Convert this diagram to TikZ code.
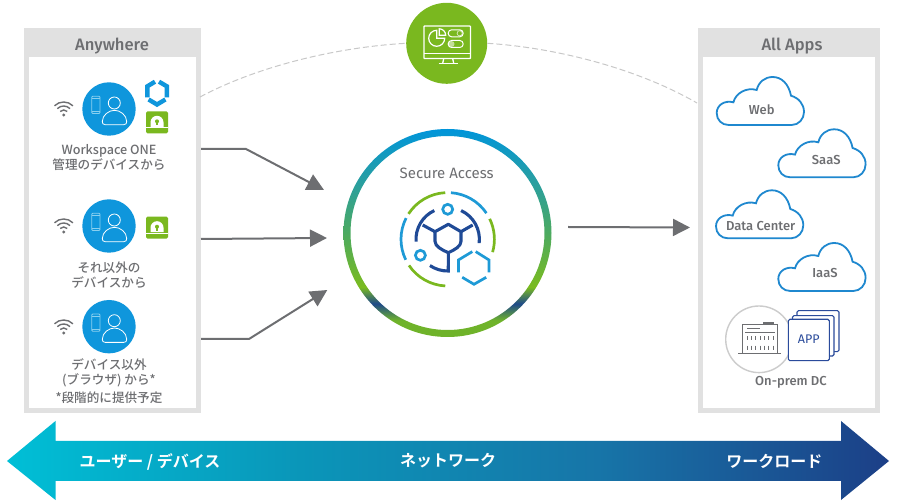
\documentclass[tikz,border=0pt]{standalone}
\usepackage{fontspec}
\setmainfont{Fira Sans}[BoldFont={Fira Sans Medium}]
\newfontfamily\jpfont{Noto Sans CJK JP Medium}[BoldFont={Noto Sans CJK JP Bold}]
\usetikzlibrary{arrows.meta}
\definecolor{txtgray}{HTML}{6D6E71}
\definecolor{panelgray}{HTML}{E1E1E1}
\definecolor{dashgray}{HTML}{C8C8C8}
\definecolor{userblue}{HTML}{0F96DC}
\definecolor{cloudblue}{HTML}{1F88CF}
\definecolor{iconblue}{HTML}{1E9AD6}
\definecolor{iconnavy}{HTML}{1F4A96}
\definecolor{appnavy}{HTML}{2A4B9B}
\definecolor{leafgreen}{HTML}{7AB81F}
\definecolor{phoneblue}{HTML}{8AD0EF}
\definecolor{bana}{HTML}{00BFD6}
\definecolor{banb}{HTML}{0A96B9}
\definecolor{banc}{HTML}{1775A8}
\definecolor{band}{HTML}{1C3F87}
\definecolor{ringa}{HTML}{0095DA}
\definecolor{ringb}{HTML}{2A9F9F}
\definecolor{ringc}{HTML}{4CAA60}
\definecolor{ringd}{HTML}{7ABB1F}
\definecolor{ringe}{HTML}{1F4A8A}
\definecolor{ringf}{HTML}{6FB32A}
\pgfdeclarehorizontalshading{bannershade}{100bp}{color(0bp)=(bana); color(25bp)=(bana); color(41.6bp)=(banb); color(58.5bp)=(banc); color(75bp)=(band); color(100bp)=(band)}
\pgfdeclareverticalshading{ringshade}{100bp}{color(0bp)=(ringf); color(25bp)=(ringf); color(29bp)=(ringf); color(33bp)=(ringe); color(37bp)=(ringd); color(50bp)=(ringc); color(62bp)=(ringb); color(75bp)=(ringa); color(100bp)=(ringa)}
\tikzset{
  >={Triangle[length=17pt,width=17pt]},
  flowarrow/.style={->,draw=txtgray,line width=2pt},
  dashline/.style={draw=dashgray,line width=1pt,dash pattern=on 6pt off 3pt},
  txtlabel/.style={text=txtgray,align=center,inner sep=0pt,font=\jpfont\fontsize{12.6}{15}\selectfont},
  latlabel/.style={text=txtgray,align=center,inner sep=0pt,font=\bfseries\fontsize{13}{15}\selectfont},
  headlabel/.style={text=txtgray,inner sep=0pt,font=\bfseries\fontsize{16.6}{18}\selectfont},
  banlabel/.style={text=white,inner sep=0pt,font=\jpfont\bfseries\fontsize{16}{18}\selectfont},
  usercircle/.style={circle,fill=userblue,minimum size=53.4pt,inner sep=0pt},
  usericon/.pic={
    \draw[white,line width=.8pt] (5.3,-6) circle (6);
    \draw[white,line width=.8pt] (-3.7,15.7) -- (14.7,15.7)
      .. controls (17,15.7) and (17.7,14.5) .. (17.7,12.5)
      .. controls (17.7,6) and (11,1.3) .. (5.5,1.3)
      .. controls (0,1.3) and (-6.7,6) .. (-6.7,12.5)
      .. controls (-6.7,14.5) and (-6,15.7) .. (-3.7,15.7) -- cycle;
    \draw[phoneblue,line width=.8pt,rounded corners=1pt] (-17.3,-12.7) rectangle (-9,4.5);
    \draw[phoneblue,line width=.6pt] (-17.3,-10.5) -- (-9,-10.5) (-17.3,2.5) -- (-9,2.5);
  },
  wifiicon/.pic={
    \fill[txtgray] (0,0) circle (1.6);
    \draw[txtgray,line width=1.4pt] (225:5) arc[start angle=225,end angle=315,radius=5];
    \draw[txtgray,line width=1.4pt] (225:9) arc[start angle=225,end angle=315,radius=9];
    \draw[txtgray,line width=1.4pt] (225:13) arc[start angle=225,end angle=315,radius=13];
  },
  lockicon/.pic={
    \fill[leafgreen,rounded corners=1.5pt] (-11,-11) rectangle (11,11);
    \fill[white] (-6.5,4.5) -- (-6.5,0) arc[start angle=180,end angle=360,radius=6.5] -- (6.5,4.5) -- cycle;
    \fill[leafgreen] (0,-1) circle (2);
    \fill[leafgreen] (-.8,-1) rectangle (.8,3);
    \draw[white,line width=.9pt] (-11,5.6) -- (11,5.6);
  },
  wsoneicon/.pic={
    \draw[userblue,line width=4.4pt] (-2,-11) -- (-9.6,-6.4) -- (-9.6,4.7);
    \draw[userblue,line width=4.4pt] (2,-11) -- (9.8,-6.4) -- (9.8,4.7);
    \draw[userblue,line width=4.4pt] (-8.4,6.8) -- (0,11.8) -- (8.4,6.8);
  },
  cloudicon/.pic={
    \draw[cloudblue,line width=1.8pt,fill=white] (12,0) -- (75,0)
      .. controls (82,0) and (87.3,-6) .. (87.3,-13)
      .. controls (87.3,-21) and (82,-27) .. (74.3,-29.3)
      .. controls (72,-41) and (65,-48) .. (56,-48)
      .. controls (48,-48) and (42,-43) .. (40,-35)
      .. controls (30,-38) and (19,-32) .. (16.7,-22.7)
      .. controls (8,-25) and (0,-20) .. (0,-12)
      .. controls (0,-5) and (5,0) .. (12,0) -- cycle;
  },
}
\begin{document}
\begin{tikzpicture}[x=1pt,y=-1pt]
  \useasboundingbox (0,0) rectangle (900,502);

  %% panels
  \fill[panelgray] (24,28) rectangle (201,413);
  \fill[white] (29,57) rectangle (196,408.5);
  \fill[panelgray] (698,28) rectangle (880,413);
  \fill[white] (703,57) rectangle (875,408);
  \node[headlabel] (anywhere) at (112,46) {Anywhere};
  \node[headlabel] (allapps) at (792,46) {All Apps};

  %% dashed arc
  \node[circle,fill=leafgreen,minimum size=81pt,inner sep=0pt] (monitor) at (446.7,43.3) {};
  \coordinate (dashL) at (200,97);
  \coordinate (dashR) at (697,103);
  \draw[dashline] (dashL) .. controls (260,65) and (340,47) .. (monitor.180);
  \draw[dashline] (monitor.0) .. controls (560,48) and (640,70) .. (dashR);

  %% monitor
  \begin{scope}[shift={(monitor)}]
    \draw[white,line width=1.3pt,rounded corners=.6pt] (-22.7,-17.3) rectangle (23.7,15.3);
    \draw[white,line width=1.3pt] (-22.7,10) -- (23.7,10);
    \draw[white,line width=1.3pt] (-3,15.3) -- (-4,20) (6,15.3) -- (7,20);
    \draw[white,line width=1.3pt] (-8,20.3) -- (11,20.3);
    \draw[white,line width=1.2pt] (-10,-13) arc[start angle=-90,end angle=-360,radius=8] -- (-10,-5) -- cycle;
    \draw[white,line width=1.2pt] (-7.5,-14.5) arc[start angle=-90,end angle=0,radius=6.5] -- (-7.5,-8) -- cycle;
    \draw[white,line width=1pt,rounded corners=3.4pt] (1.5,-13.5) rectangle (16.5,-6.5);
    \draw[white,line width=1pt,rounded corners=3.4pt] (1.5,-2.8) rectangle (16.5,4.2);
    \fill[white,opacity=.55] (4.8,.7) circle (3);
    \draw[white,line width=.7pt,opacity=.7] (13,-10) circle (2.6);
  \end{scope}

  %% left column
  \node[usercircle] (user1) at (109,109) {};
  \node[usercircle] (user2) at (109,226) {};
  \node[usercircle] (user3) at (109,326.7) {};
  \pic at (user1) {usericon};
  \pic at (user2) {usericon};
  \pic at (user3) {usericon};
  \pic at (63.7,115) {wifiicon};
  \pic at (63.7,232) {wifiicon};
  \pic at (63.7,333) {wifiicon};
  \pic at (157,92.7) {wsoneicon};
  \pic at (157,122.3) {lockicon};
  \pic at (157,227.7) {lockicon};
  \node[txtlabel] (label1) at (109,157.2) {Workspace ONE\\管理のデバイスから};
  \node[txtlabel] (label2) at (109,275.5) {それ以外の\\デバイスから};
  \node[txtlabel] (label3) at (109,381.2) {デバイス以外\\(ブラウザ) から*\\[3pt]*段階的に提供予定};

  %% arrows
  \coordinate (from1) at (201,149);
  \coordinate (bend1) at (246,149);
  \coordinate (to1) at (324,190);
  \coordinate (from2) at (201,239);
  \coordinate (to2) at (327,238);
  \coordinate (from3) at (201,339);
  \coordinate (bend3) at (249,339);
  \coordinate (to3) at (327.3,290);
  \coordinate (from4) at (568,227);
  \coordinate (to4) at (690,227.5);
  \draw[flowarrow] (from1) -- (bend1) -- (to1);
  \draw[flowarrow] (from2) -- (to2);
  \draw[flowarrow] (from3) -- (bend3) -- (to3);
  \draw[flowarrow] (from4) -- (to4);

  %% ring
  \shade[shading=ringshade,even odd rule] (447.5,233) circle (104) (447.5,233) circle (97);
  \node[text=txtgray,inner sep=0pt,font=\fontsize{15}{17}\selectfont] (secure) at (446.7,173) {Secure Access};

  %% secure access icon
  \begin{scope}[shift={(447.7,239.3)},line width=2.7pt]
    \draw[leafgreen] (213:46.7) arc[start angle=213,end angle=267,radius=46.7];
    \draw[iconblue] (274:46.7) arc[start angle=274,end angle=326,radius=46.7];
    \draw[leafgreen] (-26:46.7) arc[start angle=-26,end angle=16,radius=46.7];
    \draw[iconblue] (154:46.7) arc[start angle=154,end angle=207,radius=46.7];
    \draw[leafgreen] (93:46.7) arc[start angle=93,end angle=146,radius=46.7];
    \begin{scope}[line width=3.1pt]
      \draw[iconnavy] (176:31.7) arc[start angle=176,end angle=245,radius=31.7];
      \draw[iconnavy] (295:31.7) arc[start angle=295,end angle=367,radius=31.7];
      \draw[iconnavy] (124:31.7) arc[start angle=124,end angle=89,radius=31.7] -- (.7,14);
      \draw[iconnavy] (-25,-14.3) -- (-12.7,-7.6);
      \draw[iconnavy] (25,-14.3) -- (13.3,-7.6);
      \draw[iconnavy,line join=round] (.6,-15) -- (-12.7,-7.6) -- (-12.7,2)
        .. controls (-12.7,7) and (-6,10.5) .. (.6,13.4)
        .. controls (7,10.5) and (13.3,7) .. (13.3,2) -- (13.3,-7.6) -- cycle;
    \end{scope}
    \draw[iconblue] (0,-30) circle (5);
    \draw[iconblue] (-27.3,16) circle (5);
    \draw[iconblue] (24.6,12.3) -- (10.7,20.7) -- (10.7,33);
    \draw[iconblue] (28,12.3) -- (41.3,20.7) -- (41.3,33);
    \draw[iconblue] (14.5,38) -- (26.3,45) -- (38.5,38);
  \end{scope}

  %% clouds
  \pic at (716.7,125) {cloudicon};
  \pic at (778.3,177.3) {cloudicon};
  \pic at (716,238.3) {cloudicon};
  \pic at (778.3,291) {cloudicon};
  \node[latlabel] (web) at (761.7,109.5) {Web};
  \node[latlabel] (saas) at (826.3,160.5) {SaaS};
  \node[latlabel] (datacenter) at (760.7,226.5) {Data Center};
  \node[latlabel] (iaas) at (825,273.2) {IaaS};

  %% on-prem
  \draw[draw=black!20,line width=1.4pt] (759,339.3) circle (33.3);
  \begin{scope}[draw=txtgray,line width=.8pt]
    \draw (742.3,353.3) -- (742.3,324.3) -- (777.7,324.3) -- (777.7,353.3);
    \draw (738.3,353.3) -- (781,353.3);
    \draw[line width=1.8pt] (763,323.3) -- (774,323.3);
    \draw (747,328.5) -- (760,328.5) (745,332) -- (775,332);
    \foreach \tick in {747,751.3,755.6,760,764.3,768.6,773}{
      \draw (\tick,336.5) -- (\tick,340.5);
      \draw (\tick,345.7) -- (\tick,349.7);
    }
  \end{scope}
  \begin{scope}[draw=appnavy,fill=white,line width=1.1pt]
    \filldraw[rounded corners=1.5pt] (797,310.7) rectangle (839,351.7);
    \filldraw[rounded corners=1.5pt] (792.5,315.7) rectangle (834,356);
    \filldraw[rounded corners=1.5pt] (788.3,319.3) rectangle (829.3,360.7);
  \end{scope}
  \node[text=appnavy,inner sep=0pt,font=\fontsize{12.5}{14}\selectfont] (app) at (808.7,338.7) {APP};
  \node[latlabel] (onprem) at (791,382.5) {On-prem DC};

  %% banner
  \shade[shading=bannershade] (7,461) -- (55.5,421) -- (55.5,441) -- (841,441)
    -- (841,421) -- (889,461) -- (841,500) -- (841,481) -- (55.5,481) -- (55.5,500) -- cycle;
  \node[banlabel] (banuser) at (150,462) {ユーザー / デバイス};
  \node[banlabel] (bannet) at (448,461) {ネットワーク};
  \node[banlabel] (banload) at (774.3,461) {ワークロード};
\end{tikzpicture}
\end{document}
